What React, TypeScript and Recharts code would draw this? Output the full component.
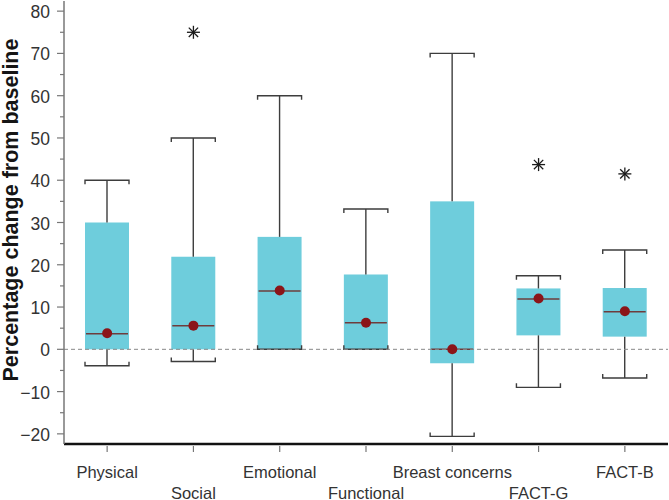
// Box plot: percentage change from baseline per QoL domain
import React from 'react';
import {
  ComposedChart, Bar, Line, XAxis, YAxis, ReferenceLine,
} from 'recharts';

const categories  = ['Physical', 'Social', 'Emotional', 'Functional', 'Breast concerns', 'FACT-G', 'FACT-B'];
const whiskerLow  = [-3.9, -2.9, 0, 0, -20.6, -9.0, -6.8];
const q1          = [0, 0, 0, 0, -3.3, 3.3, 3.0];
const median      = [3.7, 5.6, 13.8, 6.3, 0, 11.9, 8.9];
const q3          = [30, 21.9, 26.6, 17.7, 35, 14.4, 14.5];
const whiskerHigh = [40, 50, 60, 33.2, 70, 17.4, 23.5];
const means       = [3.8, 5.6, 13.9, 6.3, 0, 12.0, 9.0];
const outliers: (number | null)[] = [null, 75, null, null, null, 43.7, 41.5];

const yMajorTicks = [-20, -10, 0, 10, 20, 30, 40, 50, 60, 70, 80];
const yMinorTicks = [-15, -5, 5, 15, 25, 35, 45, 55, 65, 75];
const yDomain: [number, number] = [-22.4, 82.4];

const data = categories.map((name, i) => ({
  name,
  whiskerLow:  whiskerLow[i],
  q1:          q1[i],
  median:      median[i],
  q3:          q3[i],
  whiskerHigh: whiskerHigh[i],
  mean:        means[i],
  outlier:     outliers[i],
}));

const BOX    = '#6ecddc';
const WHISK  = '#3d3d3d';
const MED    = '#6e3c3c';
const DOT    = '#8b1519';
const FONT   = '"Liberation Sans", Arial, sans-serif';

function BoxShape(props: any) {
  const { x, y, width, height, payload } = props;
  if (x == null || y == null || !payload) return <g />;
  const top = Math.min(y, y + height);
  const h   = Math.abs(height);
  const hi  = payload.whiskerHigh;
  const lo  = payload.whiskerLow;
  // whisker range bar -> linear map of values inside it
  const py  = (v: number) => top + ((hi - v) / (hi - lo)) * h;
  const cx  = x + width / 2;
  const yHi = py(hi), yLo = py(lo), yQ3 = py(payload.q3), yQ1 = py(payload.q1), yMed = py(payload.median);
  const t = 4;
  return (
    <g>
      <rect x={x} y={yQ3} width={width} height={yQ1 - yQ3} fill={BOX} />
      {/* upper whisker */}
      <line x1={cx} x2={cx} y1={yHi} y2={yQ3} stroke={WHISK} strokeWidth={1.4} />
      <polyline points={`${x},${yHi + t} ${x},${yHi} ${x + width},${yHi} ${x + width},${yHi + t}`}
        fill="none" stroke={WHISK} strokeWidth={1.4} />
      {/* lower whisker */}
      <line x1={cx} x2={cx} y1={yQ1} y2={yLo} stroke={WHISK} strokeWidth={1.4} />
      <polyline points={`${x},${yLo - t} ${x},${yLo} ${x + width},${yLo} ${x + width},${yLo - t}`}
        fill="none" stroke={WHISK} strokeWidth={1.4} />
      {/* median */}
      <line x1={x + 1} x2={x + width - 1} y1={yMed} y2={yMed} stroke={MED} strokeWidth={1.5} />
    </g>
  );
}

function MeanDot({ cx, cy }: any) {
  if (cx == null || cy == null || isNaN(cy)) return <g />;
  return <circle cx={cx} cy={cy} r={5} fill={DOT} />;
}

function StarDot({ cx, cy, value }: any) {
  if (cx == null || cy == null || value == null || isNaN(cy)) return <g />;
  const r = 6.5, d = r * 0.72;
  return (
    <g stroke="#1a1a1a" strokeWidth={1.3}>
      <line x1={cx - r} x2={cx + r} y1={cy} y2={cy} />
      <line x1={cx} x2={cx} y1={cy - r} y2={cy + r} />
      <line x1={cx - d} x2={cx + d} y1={cy - d} y2={cy + d} />
      <line x1={cx - d} x2={cx + d} y1={cy + d} y2={cy - d} />
    </g>
  );
}

function YTick({ x, y, payload }: any) {
  const v = payload.value;
  const major = v % 10 === 0;
  return (
    <g>
      <line x1={x - (major ? 7 : 4)} x2={x} y1={y} y2={y} stroke="#777" strokeWidth={1.2} />
      {major && (
        <text x={x - 14} y={y} dy={7} textAnchor="end" fontSize={17.5} fill="#333" fontFamily={FONT}>
          {v < 0 ? `\u2212${Math.abs(v)}` : String(v)}
        </text>
      )}
    </g>
  );
}

function XTick({ x, y, payload, index }: any) {
  const lower = index % 2 === 1;
  return (
    <g>
      <line x1={x} x2={x} y1={y + 2} y2={y + 8} stroke="#777" strokeWidth={1.2} />
      <text x={x} y={y + (lower ? 54.5 : 34)} textAnchor="middle" fontSize={16.5} fill="#333" fontFamily={FONT}>
        {payload.value}
      </text>
    </g>
  );
}

function YLabel() {
  return (
    <text x={18} y={210} transform="rotate(-90 18 210)" textAnchor="middle"
      fontSize={21.5} fontWeight={700} fill="#151515" fontFamily={FONT}>
      Percentage change from baseline
    </text>
  );
}

export default function App() {
  return (
    <div style={{ position: 'absolute', left: 0, top: 0, width: 669, height: 500, background: '#fff' }}>
      <ComposedChart width={669} height={500} data={data}
        margin={{ top: 1, right: 1, left: 0, bottom: 0 }}>
        <XAxis xAxisId="top" orientation="top" dataKey="name" height={0}
          tick={false} tickLine={false} axisLine={{ stroke: '#8a8a8a', strokeWidth: 1.5 }} />
        <YAxis yAxisId="right" orientation="right" width={0} domain={yDomain} allowDataOverflow
          tick={false} tickLine={false} axisLine={{ stroke: '#8a8a8a', strokeWidth: 1.5 }} />
        <XAxis dataKey="name" height={56} interval={0} tickSize={0} tickMargin={0}
          tickLine={false} tick={<XTick />}
          axisLine={{ stroke: '#111', strokeWidth: 2.5 }} />
        <YAxis width={64} domain={yDomain} allowDataOverflow type="number"
          ticks={[...yMajorTicks, ...yMinorTicks].sort((a, b) => a - b)}
          interval={0} tickSize={0} tickMargin={0} tickLine={false} tick={<YTick />}
          axisLine={{ stroke: '#777', strokeWidth: 1.5 }}
          label={{ content: () => <YLabel /> }} />
        <Bar dataKey={(d: any) => [d.whiskerLow, d.whiskerHigh]} barSize={44}
          shape={<BoxShape />} isAnimationActive={false} />
        <ReferenceLine y={0} stroke="#888" strokeDasharray="4 3" strokeWidth={1} />
        <Line dataKey="mean" stroke="none" dot={<MeanDot />} activeDot={false}
          isAnimationActive={false} />
        <Line dataKey="outlier" stroke="none" dot={<StarDot />} activeDot={false}
          connectNulls={false} isAnimationActive={false} />
      </ComposedChart>
    </div>
  );
}
